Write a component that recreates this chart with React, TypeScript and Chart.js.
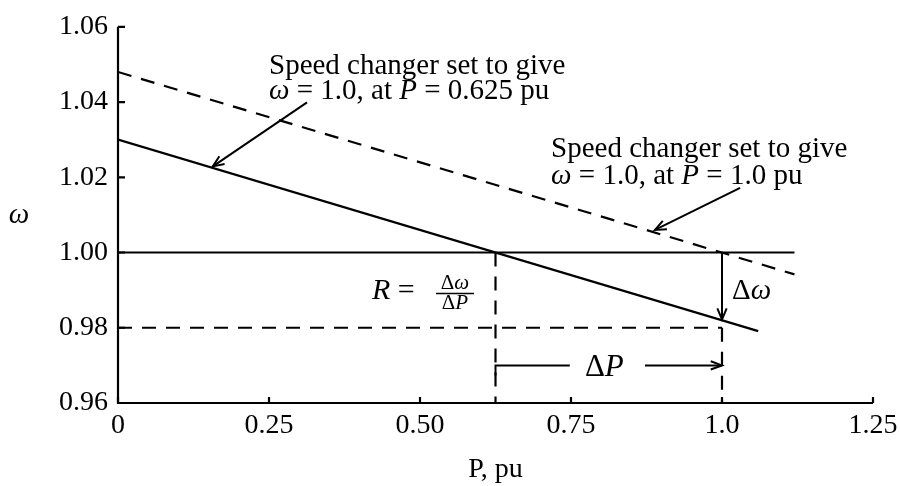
import React, { useEffect, useRef } from "react";
import { Chart, registerables } from "chart.js";

Chart.register(...registerables);

// ---- data ----
const pTicks = [0, 0.25, 0.5, 0.75, 1.0, 1.25];
const pTickLabels = ["0", "0.25", "0.50", "0.75", "1.0", "1.25"];
const wTicks = [0.96, 0.98, 1.0, 1.02, 1.04, 1.06];
const wTickLabels = ["0.96", "0.98", "1.00", "1.02", "1.04", "1.06"];

const droopP = [0, 1.06];
const droopW = [1.03, 0.9791];
const shiftedP = [0, 1.12];
const shiftedW = [1.048, 0.9942];
const nominalP = [0, 1.12];
const nominalW = [1.0, 1.0];
const lowP = [0, 1.0];
const lowW = [0.98, 0.98];
const vert1P = [0.625, 0.625];
const vert1W = [1.0, 0.96];
const vert2P = [1.0, 1.0];
const vert2W = [0.98, 0.96];

// arrows: [x0, y0, x1, y1] in data units, head at (x1, y1)
const arrowAnn1 = [0.313, 1.0399, 0.157, 1.0229];
const arrowAnn2 = [1.03, 1.0172, 0.889, 1.006];
const arrowDw = [1.0, 1.0, 1.0, 0.9822];
const dPLevel = 0.97;
const dPLeftEnd = [0.625, 0.748];
const dPRightEnd = [0.8725, 1.0];

const FAMILY = "'Liberation Serif', 'Times New Roman', serif";

const toPts = (xs: number[], ys: number[]) => xs.map((x, i) => ({ x, y: ys[i] }));

type Seg = { t: string; it?: boolean };

function drawRich(ctx: CanvasRenderingContext2D, segs: Seg[], x: number, y: number, size: number, align = "left") {
  let w = 0;
  for (const s of segs) {
    ctx.font = `${s.it ? "italic " : ""}${size}px ${FAMILY}`;
    w += ctx.measureText(s.t).width;
  }
  let cx = align === "center" ? x - w / 2 : x;
  ctx.textAlign = "left";
  for (const s of segs) {
    ctx.font = `${s.it ? "italic " : ""}${size}px ${FAMILY}`;
    ctx.fillText(s.t, cx, y);
    cx += ctx.measureText(s.t).width;
  }
}

function arrowHead(ctx: CanvasRenderingContext2D, x0: number, y0: number, x1: number, y1: number, len = 12, ang = 0.38) {
  const a = Math.atan2(y1 - y0, x1 - x0);
  ctx.beginPath();
  ctx.moveTo(x1 - len * Math.cos(a - ang), y1 - len * Math.sin(a - ang));
  ctx.lineTo(x1, y1);
  ctx.lineTo(x1 - len * Math.cos(a + ang), y1 - len * Math.sin(a + ang));
  ctx.stroke();
}

const annotPlugin = {
  id: "annot",
  afterDatasetsDraw(chart: any) {
    const { ctx, chartArea } = chart;
    const xs = chart.scales.x;
    const ys = chart.scales.y;
    const X = (v: number) => xs.getPixelForValue(v);
    const Y = (v: number) => ys.getPixelForValue(v);
    const { left, right, top, bottom } = chartArea;
    ctx.save();
    ctx.strokeStyle = "#000";
    ctx.fillStyle = "#000";
    ctx.lineWidth = 2.2;
    ctx.setLineDash([]);
    // axes
    ctx.beginPath();
    ctx.moveTo(left, top);
    ctx.lineTo(left, bottom);
    ctx.lineTo(right, bottom);
    ctx.stroke();
    // inward ticks
    ctx.beginPath();
    for (const v of pTicks) {
      ctx.moveTo(X(v), bottom);
      ctx.lineTo(X(v), bottom - 6);
    }
    for (const v of wTicks) {
      ctx.moveTo(left, Y(v));
      ctx.lineTo(left + 7, Y(v));
    }
    ctx.stroke();

    ctx.lineWidth = 2;
    // arrows
    for (const a of [arrowAnn1, arrowAnn2, arrowDw]) {
      const x0 = X(a[0]), y0 = Y(a[1]), x1 = X(a[2]), y1 = Y(a[3]);
      ctx.beginPath();
      ctx.moveTo(x0, y0);
      ctx.lineTo(x1, y1);
      ctx.stroke();
      arrowHead(ctx, x0, y0, x1, y1, 12, 0.4);
    }
    // delta P bracket
    const yP = Y(dPLevel);
    ctx.beginPath();
    ctx.moveTo(X(dPLeftEnd[0]), yP + 10);
    ctx.lineTo(X(dPLeftEnd[0]), yP);
    ctx.lineTo(X(dPLeftEnd[1]), yP);
    ctx.moveTo(X(dPRightEnd[0]), yP);
    ctx.lineTo(X(dPRightEnd[1]), yP);
    ctx.stroke();
    arrowHead(ctx, X(dPRightEnd[0]), yP, X(dPRightEnd[1]), yP, 12, 0.35);

    // texts
    ctx.textBaseline = "alphabetic";
    drawRich(ctx, [{ t: "Speed changer set to give" }], X(0.25), Y(1.0475), 29);
    drawRich(ctx, [{ t: "ω", it: true }, { t: " = 1.0, at " }, { t: "P", it: true }, { t: " = 0.625 pu" }], X(0.25), Y(1.0407), 29);
    drawRich(ctx, [{ t: "Speed changer set to give" }], X(0.717), Y(1.0253), 29);
    drawRich(ctx, [{ t: "ω", it: true }, { t: " = 1.0, at " }, { t: "P", it: true }, { t: " = 1.0 pu" }], X(0.717), Y(1.0182), 29);
    drawRich(ctx, [{ t: "Δ" }, { t: "ω", it: true }], X(1.0166), Y(0.9877), 29);
    drawRich(ctx, [{ t: "Δ" }, { t: "P", it: true }], X(0.773), Y(0.9673), 31);
    drawRich(ctx, [{ t: "R", it: true }, { t: " = " }], X(0.4205), Y(0.9877), 30);
    const fx = X(0.558);
    drawRich(ctx, [{ t: "Δ" }, { t: "ω", it: true }], fx, Y(0.9903), 21, "center");
    drawRich(ctx, [{ t: "Δ" }, { t: "P", it: true }], fx, Y(0.9850), 21, "center");
    ctx.lineWidth = 1.4;
    ctx.beginPath();
    ctx.moveTo(fx - 19, Y(0.9891));
    ctx.lineTo(fx + 19, Y(0.9891));
    ctx.stroke();

    // y axis title (upright, not rotated)
    ctx.font = `italic 29px ${FAMILY}`;
    ctx.textAlign = "center";
    ctx.textBaseline = "middle";
    ctx.fillText("ω", 19, (top + bottom) / 2);
    ctx.restore();
  },
};

export default function App() {
  const ref = useRef<HTMLCanvasElement | null>(null);
  useEffect(() => {
    if (!ref.current) return;
    const solid = { borderColor: "#000", borderWidth: 2.2, pointRadius: 0, showLine: true, fill: false };
    const dashed = { ...solid, borderDash: [14, 10] };
    const tickFont = { family: FAMILY, size: 28 };
    const chart = new Chart(ref.current, {
      type: "scatter",
      data: {
        datasets: [
          { ...solid, data: toPts(droopP, droopW) },
          { ...dashed, data: toPts(shiftedP, shiftedW) },
          { ...solid, data: toPts(nominalP, nominalW) },
          { ...dashed, data: toPts(lowP, lowW) },
          { ...dashed, data: toPts(vert1P, vert1W) },
          { ...dashed, data: toPts(vert2P, vert2W) },
        ],
      },
      options: {
        animation: false,
        responsive: false,
        events: [],
        layout: { padding: { left: 0, right: 27, top: 20, bottom: 0 } },
        plugins: { legend: { display: false }, tooltip: { enabled: false } },
        scales: {
          x: {
            type: "linear",
            min: 0,
            max: 1.25,
            afterBuildTicks: (s: any) => {
              s.ticks = pTicks.map((v) => ({ value: v }));
            },
            afterFit: (s: any) => {
              s.height = 83;
              s.paddingRight = 0;
            },
            ticks: {
              callback: (_v: any, i: number) => pTickLabels[i],
              font: tickFont,
              color: "#000",
              padding: 6,
              maxRotation: 0,
              autoSkip: false,
            },
            grid: { display: false, drawTicks: false },
            border: { display: false },
            title: { display: true, text: "P, pu", font: tickFont, color: "#000", padding: { top: 0, bottom: 0 } },
          },
          y: {
            type: "linear",
            min: 0.96,
            max: 1.06,
            afterBuildTicks: (s: any) => {
              s.ticks = wTicks.map((v) => ({ value: v }));
            },
            afterFit: (s: any) => {
              s.width = 118;
            },
            ticks: {
              callback: (_v: any, i: number) => wTickLabels[i],
              font: tickFont,
              color: "#000",
              padding: 10,
              autoSkip: false,
            },
            grid: { display: false, drawTicks: false },
            border: { display: false },
          },
        },
      },
      plugins: [annotPlugin],
    } as any);
    return () => chart.destroy();
  }, []);
  return (
    <div style={{ position: "absolute", left: 0, top: 0, width: 900, height: 486, background: "#fff" }}>
      <canvas ref={ref} width={900} height={486} style={{ display: "block" }} />
    </div>
  );
}
